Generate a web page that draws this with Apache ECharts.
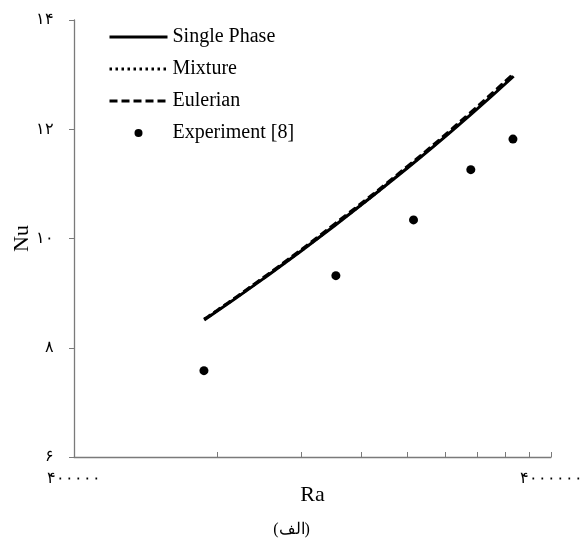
<!DOCTYPE html>
<html>
<head>
<meta charset="utf-8">
<script src="https://cdn.jsdelivr.net/npm/echarts@6/dist/echarts.min.js"></script>
<style>html,body{margin:0;padding:0;background:#fff}#c{width:583px;height:547px}</style>
</head>
<body>
<div id="c"></div>
<script>
// Data
const raSim = [750000, 1000000, 1400000, 2000000, 2700000, 3340000];
const nuSingle = [8.51, 9.27, 10.22, 11.29, 12.25, 12.97];
const nuMixture = [8.52, 9.28, 10.23, 11.30, 12.27, 12.99];
const nuEulerian = [8.52, 9.29, 10.25, 11.32, 12.29, 13.02];
const raExp = [749000, 1416000, 2060000, 2716000, 3329000];
const nuExp = [7.58, 9.32, 10.34, 11.26, 11.82];
const xTicks = [400000, 800000, 1200000, 1600000, 2000000, 2400000, 2800000, 3200000, 3600000, 4000000];
const xLabels = [400000, 4000000];

const fa = s => String(s).replace(/[0-9]/g, d => '۰۱۲۳۴۵۶۷۸۹'[d]);
const zip = (a, b) => a.map((v, i) => [v, b[i]]);
const serif = '"Liberation Serif", "Times New Roman", serif';
const axisCol = '#7a7a7a';
const hideSym = { opacity: 0 };

const chart = echarts.init(document.getElementById('c'));
chart.setOption({
  animation: false,
  backgroundColor: '#fff',
  grid: { left: 74, right: 32, top: 20, bottom: 90, containLabel: false, outerBoundsMode: 'none' },
  title: {
    text: '(الف)', left: 'center', bottom: 4,
    textStyle: { fontFamily: serif, fontSize: 16, fontWeight: 'normal', color: '#000' }
  },
  legend: {
    orient: 'vertical', left: 103, top: 22, itemWidth: 58, itemHeight: 8, itemGap: 12,
    textStyle: { fontFamily: serif, fontSize: 20, color: '#000' },
    lineStyle: { width: 3 },
    data: [
      { name: 'Single Phase', itemStyle: hideSym },
      { name: 'Mixture', itemStyle: hideSym },
      { name: 'Eulerian', itemStyle: hideSym },
      { name: 'Experiment [8]' }
    ]
  },
  xAxis: {
    type: 'log', logBase: 10, min: 400000, max: 4000000,
    name: 'Ra', nameLocation: 'middle', nameGap: 27, nameMoveOverlap: false,
    nameTextStyle: { fontFamily: serif, fontSize: 22, color: '#000' },
    axisLine: { lineStyle: { color: axisCol, width: 1.3 } },
    axisTick: { inside: true, length: 5, customValues: xTicks, lineStyle: { color: axisCol } },
    axisLabel: { customValues: xLabels, formatter: v => fa(v), fontSize: 16, color: '#000', margin: 14, showMinLabel: true, showMaxLabel: true },
    splitLine: { show: false }, minorTick: { show: false }
  },
  yAxis: {
    type: 'value', min: 6, max: 14, interval: 2,
    name: 'Nu', nameLocation: 'middle', nameGap: 41, nameMoveOverlap: false,
    nameTextStyle: { fontFamily: serif, fontSize: 22, color: '#000' },
    axisLine: { show: true, lineStyle: { color: axisCol, width: 1.3 } },
    axisTick: { show: true, inside: false, length: 5, lineStyle: { color: axisCol } },
    axisLabel: { formatter: v => fa(v), fontSize: 16, color: '#000', margin: 20 },
    splitLine: { show: false }
  },
  series: [
    { name: 'Single Phase', type: 'line', smooth: true, symbol: 'none', data: zip(raSim, nuSingle),
      lineStyle: { color: '#000', width: 3, type: 'solid' }, itemStyle: { color: '#000' }, z: 3 },
    { name: 'Mixture', type: 'line', smooth: true, symbol: 'none', data: zip(raSim, nuMixture),
      lineStyle: { color: '#000', width: 3, type: [2.5, 3.5] }, itemStyle: { color: '#000' }, z: 4 },
    { name: 'Eulerian', type: 'line', smooth: true, symbol: 'none', data: zip(raSim, nuEulerian),
      lineStyle: { color: '#000', width: 3, type: [8, 4] }, itemStyle: { color: '#000' }, z: 5 },
    { name: 'Experiment [8]', type: 'scatter', symbol: 'circle', symbolSize: 9, data: zip(raExp, nuExp),
      itemStyle: { color: '#000', opacity: 1 }, z: 6 }
  ]
});
</script>
</body>
</html>
